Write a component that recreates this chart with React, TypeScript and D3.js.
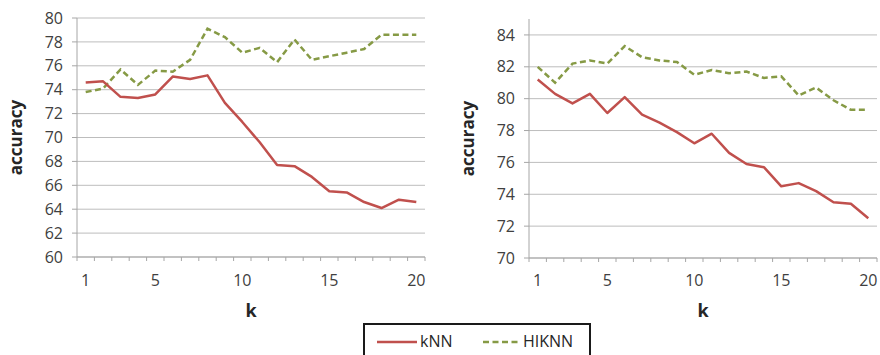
import React from 'react';
import * as d3 from 'd3';

// k values shared by both panels
const kValues = d3.range(1, 21);
const kLabels = [1, 5, 10, 15, 20];

// left panel
const leftKnn = [74.6, 74.7, 73.4, 73.3, 73.6, 75.1, 74.9, 75.2, 72.9, 71.3, 69.6, 67.7, 67.6, 66.7, 65.5, 65.4, 64.6, 64.1, 64.8, 64.6];
const leftHiknn = [73.8, 74.1, 75.7, 74.4, 75.6, 75.5, 76.5, 79.1, 78.4, 77.1, 77.5, 76.3, 78.2, 76.5, 76.8, 77.1, 77.4, 78.6, 78.6, 78.6];
const leftTicks = [60, 62, 64, 66, 68, 70, 72, 74, 76, 78, 80];

// right panel
const rightKnn = [81.2, 80.3, 79.7, 80.3, 79.1, 80.1, 79.0, 78.5, 77.9, 77.2, 77.8, 76.6, 75.9, 75.7, 74.5, 74.7, 74.2, 73.5, 73.4, 72.5];
const rightHiknn = [82.0, 81.0, 82.2, 82.4, 82.2, 83.3, 82.6, 82.4, 82.3, 81.5, 81.8, 81.6, 81.7, 81.3, 81.4, 80.2, 80.7, 79.9, 79.3, 79.3];
const rightTicks = [70, 72, 74, 76, 78, 80, 82, 84];

const RED = '#c0504d';
const GREEN = '#869a45';
const FONT = '"Open Sans", "Liberation Sans", sans-serif';

type PanelProps = {
  left: number;
  right: number;
  top: number;
  bottom: number;
  domain: [number, number];
  ticks: number[];
  knn: number[];
  hiknn: number[];
  titleX: number;
};

const Panel = ({ left, right, top, bottom, domain, ticks, knn, hiknn, titleX }: PanelProps) => {
  const x = d3.scaleBand<number>().domain(kValues).range([left, right]).padding(0);
  const y = d3.scaleLinear().domain(domain).range([bottom, top]);
  const cx = (k: number) => (x(k) as number) + x.bandwidth() / 2;

  const line = (vals: number[]) =>
    d3.line<number>()
      .x((_, i) => cx(kValues[i]))
      .y(d => y(d))(vals) as string;

  // category boundaries for tick marks
  const bounds = kValues.map(k => x(k) as number).concat([right]);

  return (
    <g>
      {ticks.map(t => (
        <g key={t}>
          <line x1={left} x2={right} y1={y(t)} y2={y(t)} stroke="#bdbdbd" strokeWidth={1} />
          <line x1={left - 5} x2={left} y1={y(t)} y2={y(t)} stroke="#a6a6a6" strokeWidth={1} />
          <text x={left - 14} y={y(t)} dy="0.35em" textAnchor="end" fontSize={16} fill="#404040" fontFamily={FONT}>
            {t}
          </text>
        </g>
      ))}
      <line x1={left} x2={left} y1={top} y2={bottom} stroke="#a6a6a6" strokeWidth={1} />
      <line x1={left} x2={right} y1={bottom} y2={bottom} stroke="#a6a6a6" strokeWidth={1} />
      {bounds.map((b, i) => (
        <line key={i} x1={b} x2={b} y1={bottom} y2={bottom + 4} stroke="#a6a6a6" strokeWidth={1} />
      ))}
      {kLabels.map(k => (
        <text key={k} x={cx(k)} y={286} textAnchor="middle" fontSize={16} fill="#404040" fontFamily={FONT}>
          {k}
        </text>
      ))}
      <text x={(left + right) / 2} y={317} textAnchor="middle" fontSize={18} fontWeight="bold" fill="#262626" fontFamily={FONT}>
        k
      </text>
      <text
        transform={`translate(${titleX},${(top + bottom) / 2}) rotate(-90)`}
        textAnchor="middle"
        fontSize={17}
        fontWeight="bold"
        fill="#262626"
        fontFamily={FONT}
      >
        accuracy
      </text>
      <path d={line(hiknn)} fill="none" stroke={GREEN} strokeWidth={2.5} strokeDasharray="6,3.5" />
      <path d={line(knn)} fill="none" stroke={RED} strokeWidth={2.5} strokeLinejoin="round" />
    </g>
  );
};

export default function App() {
  return (
    <svg width={880} height={355} style={{ position: 'absolute', left: 0, top: 0, background: '#fff' }}>
      <rect width={880} height={355} fill="#fff" />
      <Panel left={77} right={425} top={18} bottom={257} domain={[60, 80]} ticks={leftTicks}
        knn={leftKnn} hiknn={leftHiknn} titleX={22} />
      <Panel left={529} right={877} top={19} bottom={258} domain={[70, 85]} ticks={rightTicks}
        knn={rightKnn} hiknn={rightHiknn} titleX={474} />
      {/* legend */}
      <rect x={364} y={324} width={226} height={40} fill="#fff" stroke="#1a1a1a" strokeWidth={2} />
      <line x1={377} x2={417} y1={342} y2={342} stroke={RED} strokeWidth={2.5} />
      <text x={420} y={347} fontSize={16} fill="#262626" fontFamily={FONT}>kNN</text>
      <line x1={483} x2={520} y1={342} y2={342} stroke={GREEN} strokeWidth={2.5} strokeDasharray="6,3.5" />
      <text x={523} y={347} fontSize={16} fill="#262626" fontFamily={FONT}>HIKNN</text>
    </svg>
  );
}
